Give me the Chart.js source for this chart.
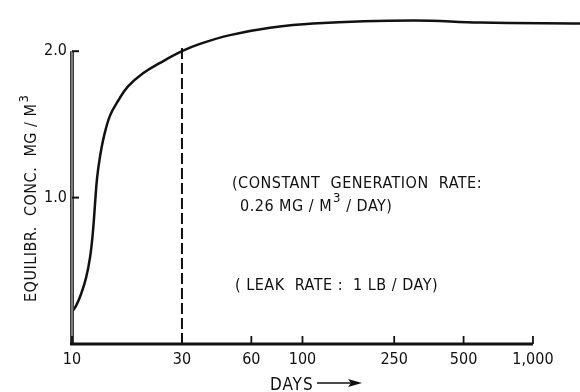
<!DOCTYPE html>
<html>
<head>
<meta charset="utf-8">
<script src="https://cdn.jsdelivr.net/npm/chart.js@4/dist/chart.umd.min.js"></script>
<style>
  body { margin: 0; background: #fff; }
  #wrap { width: 580px; height: 392px; }
</style>
</head>
<body>
<div id="wrap"><canvas id="conc-chart" width="580" height="392"></canvas></div>
<script>
// Curve (days, mg/m3)
var days = [10, 10.41, 10.94, 11.5, 11.97, 12.33, 12.59, 12.84, 13.23, 13.77, 14.62, 15.83, 17.5, 20.33, 24.09, 30, 35.9, 48.5, 72.3, 111, 301, 589, 1600];
var conc = [0.22, 0.26, 0.34, 0.45, 0.59, 0.77, 0.96, 1.13, 1.28, 1.42, 1.56, 1.66, 1.76, 1.85, 1.92, 2.0, 2.05, 2.11, 2.16, 2.19, 2.21, 2.196, 2.19];

// Dashed marker at 30 days
var markerDays = [30, 30];
var markerConc = [0, 2.05];

// Axis ticks
var xTickValues = [10, 30, 60, 100, 250, 500, 1000];
var xTickLabels = ["10", "30", "60", "100", "250", "500", "1,000"];
var yTickValues = [1, 2];
var yTickLabels = ["1.0", "2.0"];

var FONT = "'DejaVu Sans Condensed', 'DejaVu Sans', sans-serif";

document.addEventListener("DOMContentLoaded", function () {
  var ctx = document.getElementById("conc-chart").getContext("2d");

  // Hand-drawn style axes, ticks and notes
  var paperPlugin = {
    id: "paper",
    afterDraw: function (chart) {
      var c = chart.ctx;
      var xs = chart.scales.x;
      var ys = chart.scales.y;
      var y0 = ys.getPixelForValue(0);
      var left = xs.getPixelForValue(10);
      c.save();

      // y axis: thick grey bar up to 2.0
      var yTop = ys.getPixelForValue(2);
      c.lineCap = "butt";
      c.strokeStyle = "#3a3a3a";
      c.lineWidth = 4;
      c.beginPath();
      c.moveTo(left, y0);
      c.lineTo(left, yTop);
      c.stroke();
      c.strokeStyle = "#9a9a9a";
      c.lineWidth = 1.4;
      c.beginPath();
      c.moveTo(left, y0);
      c.lineTo(left, yTop);
      c.stroke();

      // y ticks pointing in
      c.strokeStyle = "#111";
      c.lineWidth = 2;
      yTickValues.forEach(function (v) {
        var py = ys.getPixelForValue(v);
        c.beginPath();
        c.moveTo(left, py);
        c.lineTo(left + 7, py);
        c.stroke();
      });

      // x axis up to 1,000
      var right = xs.getPixelForValue(1000);
      c.lineWidth = 3;
      c.beginPath();
      c.moveTo(left - 2, y0);
      c.lineTo(right, y0);
      c.stroke();
      c.lineWidth = 1.8;
      xTickValues.forEach(function (v) {
        var px = xs.getPixelForValue(v);
        c.beginPath();
        c.moveTo(px, y0);
        c.lineTo(px, y0 - 8);
        c.stroke();
      });

      c.fillStyle = "#111";
      c.textBaseline = "alphabetic";
      c.textAlign = "left";

      // notes
      c.letterSpacing = "0.5px";
      c.font = "16px " + FONT;
      c.fillText("(CONSTANT  GENERATION  RATE:", 232, 188);
      var t = "0.26 MG / M";
      c.fillText(t, 240, 211);
      var w = c.measureText(t).width;
      c.font = "13px " + FONT;
      c.fillText("3", 240 + w + 1, 202);
      c.font = "16px " + FONT;
      c.fillText(" / DAY)", 240 + w + 9, 211);
      c.fillText("( LEAK  RATE :  1 LB / DAY)", 235, 290);

      // x title with arrow
      c.letterSpacing = "1px";
      c.font = "17px " + FONT;
      c.fillText("DAYS", 270, 390);
      c.letterSpacing = "0px";
      c.lineWidth = 1.5;
      c.beginPath();
      c.moveTo(317, 383);
      c.lineTo(352, 383);
      c.stroke();
      c.beginPath();
      c.moveTo(362, 383);
      c.lineTo(348, 379);
      c.lineTo(351, 383);
      c.lineTo(348, 387);
      c.closePath();
      c.fill();

      // y title, rotated
      c.translate(36, 302);
      c.rotate(-Math.PI / 2);
      c.letterSpacing = "0.5px";
      c.font = "16px " + FONT;
      var yt = "EQUILIBR.  CONC.  MG / M";
      c.fillText(yt, 0, 0);
      var yw = c.measureText(yt).width;
      c.font = "13px " + FONT;
      c.fillText("3", yw + 1, -8);
      c.restore();
    },
  };

  new Chart(ctx, {
    type: "line",
    data: {
      datasets: [
        {
          label: "Concentration",
          data: days.map(function (d, i) { return { x: d, y: conc[i] }; }),
          borderColor: "#111",
          borderWidth: 2.5,
          pointRadius: 0,
          tension: 0.4,
          fill: false,
          clip: false,
        },
        {
          label: "30 days",
          data: markerDays.map(function (d, i) { return { x: d, y: markerConc[i] }; }),
          borderColor: "#111",
          borderWidth: 2,
          borderDash: [11, 4],
          pointRadius: 0,
          fill: false,
        },
      ],
    },
    options: {
      responsive: false,
      animation: false,
      layout: { padding: { top: 7, right: 0, bottom: 0, left: 0 } },
      plugins: {
        legend: { display: false },
        tooltip: { enabled: false },
      },
      scales: {
        x: {
          type: "logarithmic",
          min: 10,
          max: 1600,
          grid: { display: false, drawTicks: false },
          border: { display: false },
          afterBuildTicks: function (scale) {
            scale.ticks = xTickValues.map(function (v) { return { value: v }; });
          },
          afterFit: function (scale) {
            scale.height = 48;
          },
          ticks: {
            autoSkip: false,
            maxRotation: 0,
            padding: 6,
            color: "#111",
            font: { family: FONT, size: 16 },
            callback: function (value, index) {
              return xTickLabels[index];
            },
          },
        },
        y: {
          min: 0,
          max: 2.25,
          grid: { display: false, drawTicks: false },
          border: { display: false },
          afterBuildTicks: function (scale) {
            scale.ticks = yTickValues.map(function (v) { return { value: v }; });
          },
          afterFit: function (scale) {
            scale.width = 72;
          },
          ticks: {
            padding: 5,
            color: "#111",
            font: { family: FONT, size: 16 },
            callback: function (value, index) {
              return yTickLabels[index];
            },
          },
        },
      },
    },
    plugins: [paperPlugin],
  });
});
</script>
</body>
</html>
